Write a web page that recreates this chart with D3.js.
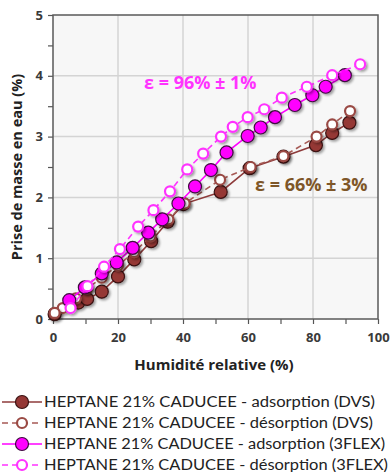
<!DOCTYPE html>
<html><head><meta charset="utf-8">
<script src="https://cdn.jsdelivr.net/npm/d3@7"></script>
<style>
html,body{margin:0;padding:0;background:#fff;}
svg{display:block;font-family:"Open Sans","DejaVu Sans",sans-serif;}
</style></head>
<body><svg id="c" width="390" height="472"></svg>
<script>
// ---- data ----
const dvsAdsX = [0.5, 7.8, 10.5, 15, 20, 25, 30.2, 35.3, 40.1, 51.6, 60.5, 70.9, 80.9, 85.9, 91.2];
const dvsAdsY = [0.08, 0.27, 0.33, 0.45, 0.70, 0.98, 1.28, 1.60, 1.89, 2.09, 2.48, 2.67, 2.86, 3.06, 3.23];
const dvsDesX = [91.4, 85.9, 81.1, 70.9, 60.8, 51.4, 40.5, 35.5, 30, 25, 20, 15, 10.5, 7, 3, 0.5];
const dvsDesY = [3.42, 3.20, 3.00, 2.68, 2.50, 2.29, 1.90, 1.64, 1.36, 1.10, 0.88, 0.68, 0.50, 0.34, 0.18, 0.10];
const flexAdsX = [5, 9.8, 15, 19.6, 24.5, 29.3, 33.6, 38.6, 43.7, 48.6, 53.4, 59.9, 63.9, 68.3, 74.4, 79.8, 83.9, 89.8];
const flexAdsY = [0.31, 0.52, 0.75, 0.93, 1.17, 1.42, 1.64, 1.90, 2.18, 2.45, 2.74, 3.01, 3.15, 3.32, 3.52, 3.68, 3.82, 4.01];
const flexDesX = [94.5, 85.9, 78.1, 70.4, 65, 59.9, 55.3, 51.7, 46.2, 41.3, 36, 30.9, 26.2, 20.6, 15.7, 10.6, 5.4];
const flexDesY = [4.19, 4.01, 3.82, 3.64, 3.45, 3.32, 3.16, 3.00, 2.72, 2.46, 2.10, 1.79, 1.52, 1.15, 0.86, 0.54, 0.18];
const xTicks = [0, 20, 40, 60, 80, 100];
const yTicks = [0, 1, 2, 3, 4, 5];
const seriesNames = [
  "HEPTANE 21% CADUCEE - adsorption (DVS)",
  "HEPTANE 21% CADUCEE - désorption (DVS)",
  "HEPTANE 21% CADUCEE - adsorption (3FLEX)",
  "HEPTANE 21% CADUCEE - désorption (3FLEX)"
];
const annotations = ["ε = 96% ± 1%", "ε = 66% ± 3%"];

// ---- styles ----
const styles = [
  {line:"#8e3b3b", dash:null, fill:"#953735", stroke:"#3a1212", r:6.5, sw:1.2, len:331},
  {line:"#a65a55", dash:"6,4", fill:"#ffffff", stroke:"#9a4a44", r:5, sw:2.2, len:329},
  {line:"#ff00ff", dash:null, fill:"#ff00ff", stroke:"#3d0a3d", r:6.5, sw:1.2, len:341},
  {line:"#ff33ff", dash:"6,4", fill:"#ffffff", stroke:"#ff33ff", r:5, sw:2.2, len:344}
];
const series = [
  dvsAdsX.map((x,i)=>[x,dvsAdsY[i]]),
  dvsDesX.map((x,i)=>[x,dvsDesY[i]]),
  flexAdsX.map((x,i)=>[x,flexAdsY[i]]),
  flexDesX.map((x,i)=>[x,flexDesY[i]])
];

const svg = d3.select("#c");
const L = 53, R = 378, T = 15, B = 319;
const x = d3.scaleLinear().domain([0,100]).range([L,R]);
const y = d3.scaleLinear().domain([0,5]).range([B,T]);

const defs = svg.append("defs");
const f = defs.append("filter").attr("id","sh").attr("x","-50%").attr("y","-50%").attr("width","200%").attr("height","200%");
f.append("feDropShadow").attr("dx",1.8).attr("dy",1.8).attr("stdDeviation",1.2).attr("flood-color","#000").attr("flood-opacity",0.35);

// plot background
svg.append("rect").attr("x",L).attr("y",T).attr("width",R-L).attr("height",B-T).attr("fill","#f7f7f7");

// gridlines
svg.append("g").selectAll("line").data(xTicks.slice(1,-1)).join("line")
  .attr("x1",d=>x(d)).attr("x2",d=>x(d)).attr("y1",T).attr("y2",B)
  .attr("stroke","#d4d4d4").attr("stroke-width",1.5);
svg.append("g").selectAll("line").data(yTicks.slice(1,-1)).join("line")
  .attr("y1",d=>y(d)).attr("y2",d=>y(d)).attr("x1",L).attr("x2",R)
  .attr("stroke","#d4d4d4").attr("stroke-width",1.5);

// axes
const xAxis = d3.axisBottom(x).tickValues(d3.range(0,101,10)).tickSize(5).tickFormat("");
const gx = svg.append("g").attr("transform",`translate(0,${B})`).call(xAxis);
gx.select(".domain").remove();
gx.selectAll("line").attr("stroke","#555").attr("stroke-width",1.2);
const gxl = svg.append("g").attr("transform",`translate(0,${B})`)
  .call(d3.axisBottom(x).tickValues(xTicks).tickSize(0).tickPadding(14).tickFormat(d3.format("d")));
gxl.select(".domain").remove();
gxl.selectAll("text").attr("font-size",13).attr("font-weight","bold").attr("fill","#3a3a3a")
  .attr("font-family","'Open Sans',sans-serif");

const yAxis = d3.axisLeft(y).tickValues(d3.range(0,5.01,0.5)).tickSize(5).tickFormat("");
const gy = svg.append("g").attr("transform",`translate(${L},0)`).call(yAxis);
gy.select(".domain").remove();
gy.selectAll("line").attr("stroke","#555").attr("stroke-width",1.2);
const gyl = svg.append("g").attr("transform",`translate(${L},0)`)
  .call(d3.axisLeft(y).tickValues(yTicks).tickSize(0).tickPadding(10).tickFormat(d3.format("d")));
gyl.select(".domain").remove();
gyl.selectAll("text").attr("font-size",13).attr("font-weight","bold").attr("fill","#3a3a3a")
  .attr("font-family","'Open Sans',sans-serif");

// frame
svg.append("rect").attr("x",L).attr("y",T).attr("width",R-L).attr("height",B-T)
  .attr("fill","none").attr("stroke","#5a5a5a").attr("stroke-width",1.5);

// axis titles
svg.append("text").attr("x",214).attr("y",370).attr("text-anchor","middle")
  .attr("font-size",15).attr("font-weight","bold").attr("fill","#222").text("Humidité relative (%)");
svg.append("text").attr("transform",`translate(22,${(T+B)/2}) rotate(-90)`).attr("text-anchor","middle")
  .attr("font-size",14.5).attr("font-weight","bold").attr("fill","#222").text("Prise de masse en eau (%)");

// series
const line = d3.line().x(d=>x(d[0])).y(d=>y(d[1]));
series.forEach((s,i)=>{
  const st = styles[i];
  const g = svg.append("g");
  g.append("path").datum(s).attr("d",line).attr("fill","none")
    .attr("stroke",st.line).attr("stroke-width",1.6).attr("stroke-dasharray",st.dash);
  g.selectAll("circle").data(s).join("circle")
    .attr("cx",d=>x(d[0])).attr("cy",d=>y(d[1])).attr("r",st.r)
    .attr("fill",st.fill).attr("stroke",st.stroke).attr("stroke-width",st.sw)
    .attr("filter","url(#sh)");
});

// annotations
svg.append("text").attr("x",144).attr("y",89).attr("font-size",18).attr("font-weight","bold")
  .attr("fill","#ff33ff").text(annotations[0]);
svg.append("text").attr("x",255).attr("y",191).attr("font-size",18).attr("font-weight","bold")
  .attr("fill","#7e5628").text(annotations[1]);

// legend
const ly0 = 402, ldy = 21;
seriesNames.forEach((name,i)=>{
  const st = styles[i];
  const yy = ly0 + i*ldy;
  const g = svg.append("g");
  g.append("line").attr("x1",2).attr("x2",42).attr("y1",yy).attr("y2",yy)
    .attr("stroke",st.line).attr("stroke-width",1.6).attr("stroke-dasharray",st.dash);
  g.append("circle").attr("cx",22).attr("cy",yy).attr("r",st.r)
    .attr("fill",st.fill).attr("stroke",st.stroke).attr("stroke-width",st.sw);
  g.append("text").attr("x",44).attr("y",yy+5).attr("font-size",15.5).attr("fill","#222")
    .attr("font-family","Lato,'Open Sans',sans-serif")
    .attr("textLength",st.len).attr("lengthAdjust","spacingAndGlyphs").text(name);
});
</script></body></html>
